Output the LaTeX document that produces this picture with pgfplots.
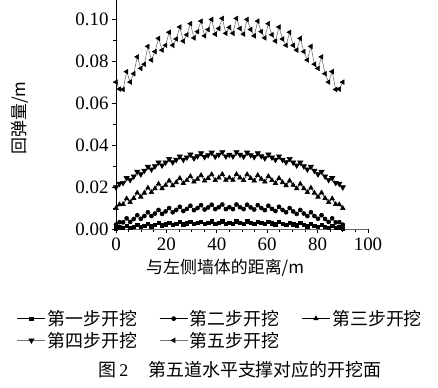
\documentclass[border=0pt]{standalone}
\usepackage{fontspec}
\setmainfont{Liberation Serif}
\newfontfamily\cjk{Noto Sans CJK SC}
\usepackage{pgfplots}
\usepackage{pgfplotstable}
\pgfplotsset{compat=1.18}
\pgfplotstableread{
x s1 s2 s3 s4 s5
0 0.0005 0.0022 0.0100 0.0200 0.0700
1.406 0.0010 0.0034 0.0118 0.0217 0.0667
2.813 0.0008 0.0033 0.0119 0.0221 0.0665
4.219 0.0017 0.0052 0.0146 0.0244 0.0750
5.625 0.0007 0.0035 0.0128 0.0235 0.0700
7.031 0.0013 0.0049 0.0148 0.0252 0.0740
8.438 0.0022 0.0067 0.0174 0.0274 0.0820
9.844 0.0011 0.0050 0.0154 0.0262 0.0765
11.25 0.0018 0.0063 0.0173 0.0279 0.0785
12.656 0.0026 0.0081 0.0197 0.0298 0.0870
14.063 0.0015 0.0063 0.0176 0.0285 0.0805
15.469 0.0021 0.0075 0.0194 0.0300 0.0845
16.875 0.0030 0.0092 0.0216 0.0318 0.0908
18.281 0.0019 0.0073 0.0194 0.0304 0.0852
19.688 0.0024 0.0085 0.0210 0.0318 0.0875
21.094 0.0032 0.0101 0.0231 0.0335 0.0937
22.5 0.0021 0.0081 0.0208 0.0319 0.0875
23.906 0.0027 0.0092 0.0223 0.0331 0.0905
25.313 0.0035 0.0107 0.0243 0.0347 0.0962
26.719 0.0023 0.0087 0.0219 0.0331 0.0895
28.125 0.0029 0.0097 0.0233 0.0342 0.0925
29.531 0.0036 0.0112 0.0252 0.0356 0.0978
30.938 0.0025 0.0091 0.0226 0.0338 0.0910
32.344 0.0030 0.0101 0.0239 0.0348 0.0940
33.75 0.0037 0.0115 0.0257 0.0362 0.0990
35.156 0.0025 0.0094 0.0231 0.0344 0.0920
36.563 0.0031 0.0104 0.0243 0.0353 0.0950
37.969 0.0038 0.0117 0.0261 0.0365 0.0998
39.375 0.0026 0.0096 0.0233 0.0346 0.0928
40.781 0.0031 0.0105 0.0245 0.0355 0.0955
42.188 0.0038 0.0118 0.0262 0.0367 0.1003
43.594 0.0026 0.0096 0.0234 0.0347 0.0932
45 0.0031 0.0105 0.0245 0.0355 0.0960
46.406 0.0026 0.0096 0.0234 0.0347 0.0932
47.813 0.0038 0.0118 0.0262 0.0367 0.1003
49.219 0.0031 0.0105 0.0245 0.0355 0.0955
50.625 0.0026 0.0096 0.0233 0.0346 0.0928
52.031 0.0038 0.0117 0.0261 0.0365 0.0998
53.438 0.0031 0.0104 0.0243 0.0353 0.0950
54.844 0.0025 0.0094 0.0231 0.0344 0.0920
56.25 0.0037 0.0115 0.0257 0.0362 0.0990
57.656 0.0030 0.0101 0.0239 0.0348 0.0940
59.063 0.0025 0.0091 0.0226 0.0338 0.0910
60.469 0.0036 0.0112 0.0252 0.0356 0.0978
61.875 0.0029 0.0097 0.0233 0.0342 0.0925
63.281 0.0023 0.0087 0.0219 0.0331 0.0895
64.688 0.0035 0.0107 0.0243 0.0347 0.0962
66.094 0.0027 0.0092 0.0223 0.0331 0.0905
67.5 0.0021 0.0081 0.0208 0.0319 0.0875
68.906 0.0032 0.0101 0.0231 0.0335 0.0937
70.313 0.0024 0.0085 0.0210 0.0318 0.0875
71.719 0.0019 0.0073 0.0194 0.0304 0.0852
73.125 0.0030 0.0092 0.0216 0.0318 0.0908
74.531 0.0021 0.0075 0.0194 0.0300 0.0845
75.938 0.0015 0.0063 0.0176 0.0285 0.0805
77.344 0.0026 0.0081 0.0197 0.0298 0.0870
78.75 0.0018 0.0063 0.0173 0.0279 0.0785
80.156 0.0011 0.0050 0.0154 0.0262 0.0765
81.563 0.0022 0.0067 0.0174 0.0274 0.0820
82.969 0.0013 0.0049 0.0148 0.0252 0.0740
84.375 0.0007 0.0035 0.0128 0.0235 0.0700
85.781 0.0017 0.0052 0.0146 0.0244 0.0750
87.188 0.0008 0.0033 0.0119 0.0221 0.0665
88.594 0.0010 0.0034 0.0118 0.0217 0.0667
90 0.0005 0.0022 0.0100 0.0200 0.0700
}\datatable

\begin{document}
\begin{tikzpicture}
\useasboundingbox (0,0) rectangle (438bp,388bp);
\begin{axis}[
  at={(116bp,158.7bp)}, anchor=south west,
  scale only axis, width=252bp, height=229.2bp,
  xmin=0, xmax=100, ymin=0, ymax=0.109,
  axis lines=left,
  x axis line style={-, line width=0.9bp, black!60},
  y axis line style={-, line width=0.9bp},
  tick align=outside, tick pos=left,
  major tick length=4bp, minor tick length=3bp,
  every tick/.style={black, line width=0.7bp},
  xtick={0,20,40,60,80,100}, minor x tick num=3,
  ytick={0,0.02,0.04,0.06,0.08,0.10}, minor y tick num=1,
  scaled y ticks=false,
  yticklabel style={/pgf/number format/.cd, fixed, fixed zerofill, precision=2},
  /pgf/number format/assume math mode=true,
  tick label style={font=\fontsize{19}{21}\selectfont},
  xticklabel style={yshift=-1bp},
  xlabel={\cjk 与左侧墙体的距离/m},
  ylabel={\cjk 回弹量/m},
  xlabel style={at={(axis description cs:0.433,-0.169)}, anchor=center, font=\fontsize{17}{20}\selectfont},
  ylabel style={at={(axis description cs:-0.381,0.486)}, anchor=center, font=\fontsize{17}{20}\selectfont},
  legend columns=3,
  legend cell align=left,
  legend style={draw=none, fill=none,
    at={(axis description cs:-0.405,-0.335)}, anchor=north west,
    font=\cjk\fontsize{18}{20}\selectfont,
    row sep=1bp,
    /tikz/every even column/.append style={column sep=20bp},
    nodes={inner sep=2bp}},
  legend image code/.code={\draw[mark repeat=2,mark phase=2] plot coordinates {(0bp,0bp) (14bp,0bp) (28bp,0bp)};},
]
\addplot[black, line width=0.6bp, mark=square*, mark size=1.7bp, mark options={solid, fill=black}] table[x=x,y=s1] {\datatable};
\addlegendentry{第一步开挖}
\addplot[black, line width=0.6bp, mark=*, mark size=2bp, mark options={solid, fill=black}] table[x=x,y=s2] {\datatable};
\addlegendentry{第二步开挖}
\addplot[black, line width=0.6bp, mark=triangle*, mark size=2.6bp, mark options={solid, fill=black}] table[x=x,y=s3] {\datatable};
\addlegendentry{第三步开挖}
\addplot[black!55, line width=0.6bp, mark=triangle*, mark size=3bp, mark options={solid, fill=black, draw=black, rotate=180}] table[x=x,y=s4] {\datatable};
\addlegendentry{第四步开挖}
\addplot[black!55, line width=0.6bp, mark=triangle*, mark size=2.6bp, mark options={solid, fill=black, draw=black, rotate=90}] table[x=x,y=s5] {\datatable};
\addlegendentry{第五步开挖}
\end{axis}
\node[font=\fontsize{18}{20}\selectfont, anchor=center] at (240bp,18bp) {{\cjk 图}\,2\hspace{20bp}{\cjk 第五道水平支撑对应的开挖面}};
\end{tikzpicture}
\end{document}
